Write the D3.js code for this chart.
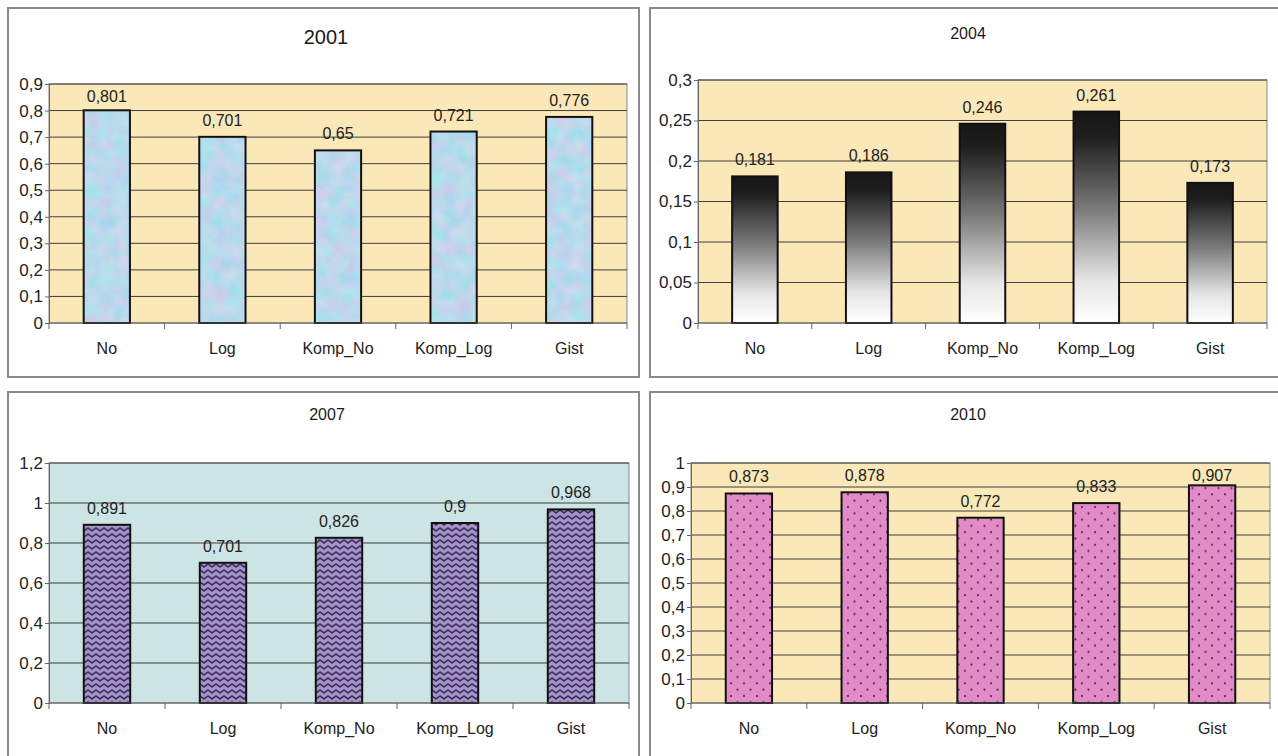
<!DOCTYPE html>
<html>
<head>
<meta charset="utf-8">
<script src="https://cdn.jsdelivr.net/npm/d3@7"></script>
<style>
  html, body { margin: 0; padding: 0; background: #fff; }
  svg { display: block; font-family: "Liberation Sans", Arial, sans-serif; }
</style>
</head>
<body>
<svg id="chart" width="1278" height="756"></svg>
<script>
// ---------- data ----------
const categories = ["No", "Log", "Komp_No", "Komp_Log", "Gist"];
const years = ["2001", "2004", "2007", "2010"];
const values2001 = [0.801, 0.701, 0.65, 0.721, 0.776];
const values2004 = [0.181, 0.186, 0.246, 0.261, 0.173];
const values2007 = [0.891, 0.701, 0.826, 0.9, 0.968];
const values2010 = [0.873, 0.878, 0.772, 0.833, 0.907];
const ticks2001 = [0, 0.1, 0.2, 0.3, 0.4, 0.5, 0.6, 0.7, 0.8, 0.9];
const ticks2004 = [0, 0.05, 0.1, 0.15, 0.2, 0.25, 0.3];
const ticks2007 = [0, 0.2, 0.4, 0.6, 0.8, 1, 1.2];
const ticks2010 = [0, 0.1, 0.2, 0.3, 0.4, 0.5, 0.6, 0.7, 0.8, 0.9, 1];

// ---------- layout / style ----------
const panels = [
  { year: years[0], values: values2001, ticks: ticks2001,
    box: { x: 8, y: 8, w: 631, h: 369 }, plot: { l: 49, r: 627, t: 84, b: 323 },
    title: { x: 326, y: 44, size: 20 }, bg: "#FAE8B9", fill: "url(#fillBlue)", kind: "marble" },
  { year: years[1], values: values2004, ticks: ticks2004,
    box: { x: 650, y: 8, w: 660, h: 369 }, plot: { l: 698, r: 1267, t: 80, b: 323 },
    title: { x: 968, y: 39, size: 16 }, bg: "#FAE8B9", fill: "url(#gradBW)", kind: "plain" },
  { year: years[2], values: values2007, ticks: ticks2007,
    box: { x: 8, y: 392, w: 631, h: 400 }, plot: { l: 49, r: 629, t: 463, b: 703 },
    title: { x: 327, y: 420, size: 16 }, bg: "#CDE4E4", fill: "url(#zigzag)", kind: "plain" },
  { year: years[3], values: values2010, ticks: ticks2010,
    box: { x: 650, y: 392, w: 660, h: 400 }, plot: { l: 691, r: 1270, t: 463, b: 703 },
    title: { x: 968, y: 420, size: 16 }, bg: "#FAE8B9", fill: "url(#dots)", kind: "plain" }
];

const fmt = v => String(v).replace(".", ",");
const svg = d3.select("#chart");
const defs = svg.append("defs");

// marble-like light blue texture
const filt = defs.append("filter").attr("id", "marble")
  .attr("x", 0).attr("y", 0).attr("width", 1).attr("height", 1)
  .attr("color-interpolation-filters", "sRGB");
filt.append("feTurbulence").attr("type", "fractalNoise")
  .attr("baseFrequency", "0.07").attr("numOctaves", 3).attr("seed", 7).attr("result", "n");
filt.append("feColorMatrix").attr("in", "n").attr("type", "matrix")
  .attr("values", "0.3 0 0 0 0.58  -0.08 0.1 0 0 0.84  0 0 0.05 0 0.9  0 0 0 0 1");

// black-to-white gradient
const g = defs.append("linearGradient").attr("id", "gradBW")
  .attr("x1", 0).attr("y1", 0).attr("x2", 0).attr("y2", 1);
[[0, "#161616"], [0.12, "#1e1e1e"], [0.45, "#777"], [0.8, "#e6e6e6"], [1, "#fff"]]
  .forEach(([o, c]) => g.append("stop").attr("offset", o).attr("stop-color", c));

// zigzag purple pattern
const zz = defs.append("pattern").attr("id", "zigzag").attr("patternUnits", "userSpaceOnUse")
  .attr("width", 8).attr("height", 6);
zz.append("rect").attr("width", 8).attr("height", 6).attr("fill", "#A495C8");
zz.append("path").attr("d", "M-4,3 L0,0 L4,3 L8,0 L12,3 M-4,9 L0,6 L4,9 L8,6 L12,9")
  .attr("fill", "none").attr("stroke", "#42305F").attr("stroke-width", 1.7);

// pink dots pattern
const dp = defs.append("pattern").attr("id", "dots").attr("patternUnits", "userSpaceOnUse")
  .attr("width", 13).attr("height", 12.6);
dp.append("rect").attr("width", 13).attr("height", 12.6).attr("fill", "#E18CC7");
dp.append("circle").attr("cx", 3).attr("cy", 3).attr("r", 1.1).attr("fill", "#5A1F50");
dp.append("circle").attr("cx", 9.5).attr("cy", 9.3).attr("r", 1.1).attr("fill", "#5A1F50");

panels.forEach(p => {
  const G = svg.append("g");
  // panel border
  G.append("rect").attr("x", p.box.x).attr("y", p.box.y).attr("width", p.box.w).attr("height", p.box.h)
    .attr("fill", "#fff").attr("stroke", "#8a8a8a").attr("stroke-width", 2);
  // title
  G.append("text").attr("x", p.title.x).attr("y", p.title.y).attr("text-anchor", "middle")
    .attr("font-size", p.title.size).attr("fill", "#1a1a1a").text(p.year);

  const x = d3.scaleBand().domain(categories).range([p.plot.l, p.plot.r])
    .paddingInner(0.6).paddingOuter(0.3);
  const y = d3.scaleLinear().domain([0, d3.max(p.ticks)]).range([p.plot.b, p.plot.t]);

  // plot background
  G.append("rect").attr("x", p.plot.l).attr("y", p.plot.t)
    .attr("width", p.plot.r - p.plot.l).attr("height", p.plot.b - p.plot.t)
    .attr("fill", p.bg).attr("stroke", "#888").attr("stroke-width", 1);

  // gridlines
  G.selectAll(".grid").data(p.ticks.filter(t => t > 0)).join("line")
    .attr("x1", p.plot.l).attr("x2", p.plot.r)
    .attr("y1", d => y(d)).attr("y2", d => y(d))
    .attr("stroke", "#3f3f3f").attr("stroke-width", 1);

  // bars
  const bars = G.selectAll(".bar").data(p.values.map((v, i) => ({ c: categories[i], v }))).join("g");
  if (p.kind === "marble") {
    bars.append("rect").attr("x", d => x(d.c)).attr("y", d => y(d.v))
      .attr("width", x.bandwidth()).attr("height", d => y(0) - y(d.v))
      .attr("fill", "#B7D9EE").attr("filter", "url(#marble)");
    bars.append("rect").attr("x", d => x(d.c)).attr("y", d => y(d.v))
      .attr("width", x.bandwidth()).attr("height", d => y(0) - y(d.v))
      .attr("fill", "none").attr("stroke", "#111").attr("stroke-width", 2);
  } else {
    bars.append("rect").attr("x", d => x(d.c)).attr("y", d => y(d.v))
      .attr("width", x.bandwidth()).attr("height", d => y(0) - y(d.v))
      .attr("fill", p.fill).attr("stroke", "#111").attr("stroke-width", 2);
  }

  // value labels
  G.selectAll(".val").data(p.values.map((v, i) => ({ c: categories[i], v }))).join("text")
    .attr("x", d => x(d.c) + x.bandwidth() / 2)
    .attr("y", d => Math.max(y(d.v) - 11, p.plot.t + 18))
    .attr("text-anchor", "middle").attr("font-size", 16).attr("fill", "#222")
    .text(d => fmt(d.v));

  // y axis
  const ya = G.append("g").attr("transform", `translate(${p.plot.l},0)`)
    .call(d3.axisLeft(y).tickValues(p.ticks).tickFormat(fmt).tickSize(4).tickPadding(2));
  ya.select(".domain").attr("stroke", "#666");
  ya.selectAll(".tick line").attr("stroke", "#666");
  ya.selectAll(".tick text").attr("font-size", 17).attr("fill", "#222")
    .attr("font-family", "'Liberation Sans', Arial, sans-serif");

  // x axis
  G.append("line").attr("x1", p.plot.l).attr("x2", p.plot.r)
    .attr("y1", y(0)).attr("y2", y(0)).attr("stroke", "#555").attr("stroke-width", 1.2);
  G.selectAll(".xt").data(d3.range(categories.length + 1)).join("line")
    .attr("x1", i => p.plot.l + i * x.step()).attr("x2", i => p.plot.l + i * x.step())
    .attr("y1", y(0)).attr("y2", y(0) + 6).attr("stroke", "#666");
  const xa = G.append("g").attr("transform", `translate(0,${y(0)})`)
    .call(d3.axisBottom(x).tickSize(0).tickPadding(20));
  xa.select(".domain").remove();
  xa.selectAll(".tick text").attr("font-size", 16).attr("fill", "#222")
    .attr("font-family", "'Liberation Sans', Arial, sans-serif");
});
</script>
</body>
</html>
